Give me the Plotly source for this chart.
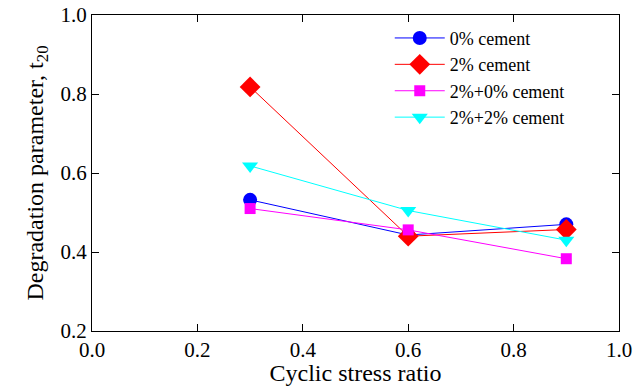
import plotly.graph_objects as go

csr = [0.3, 0.6, 0.9]
cement0 = [0.532, 0.443, 0.470]
cement2 = [0.818, 0.440, 0.457]
cement2_0 = [0.510, 0.456, 0.383]
cement2_2 = [0.618, 0.505, 0.430]

series = [
    ("0% cement", cement0, "blue", "circle", 14),
    ("2% cement", cement2, "red", "diamond", 16),
    ("2%+0% cement", cement2_0, "magenta", "square", 11),
    ("2%+2% cement", cement2_2, "cyan", "triangle-down", 14),
]

fig = go.Figure()
for name, vals, col, sym, sz in series:
    fig.add_trace(go.Scatter(
        x=csr, y=vals, name=name, mode="lines+markers",
        line=dict(color=col, width=1),
        marker=dict(color=col, symbol=sym, size=sz),
    ))

font = "Liberation Serif, Times New Roman, serif"
axis_common = dict(
    showline=True, linecolor="black", linewidth=1, mirror="ticks",
    ticks="inside", ticklen=7, tickcolor="black", showgrid=False,
    zeroline=False, automargin=True,
    tickfont=dict(family=font, size=21, color="black"),
)
fig.update_layout(
    width=633, height=386,
    margin=dict(l=92, r=14, t=15, b=55, autoexpand=False),
    paper_bgcolor="white", plot_bgcolor="white",
    font=dict(family=font, color="black", size=20),
    xaxis=dict(range=[0, 1], dtick=0.2, tickformat=".1f",
               title=dict(text="Cyclic stress ratio", font=dict(family=font, size=24), standoff=3),
               **axis_common),
    yaxis=dict(range=[0.2, 1.0], dtick=0.2, tickformat=".1f",
               title=dict(text="Degradation parameter, t<sub>20</sub>", font=dict(family=font, size=24), standoff=10),
               **axis_common),
    legend=dict(x=0.565, y=0.985, xanchor="left", yanchor="top",
                bgcolor="rgba(0,0,0,0)", font=dict(family=font, size=18, color="black"),
                tracegroupgap=0, itemwidth=50),
    showlegend=True,
)
fig.write_html("out.html", config={"displayModeBar": False},
               post_script="document.body.style.margin='0px';document.body.style.overflow='hidden';")
